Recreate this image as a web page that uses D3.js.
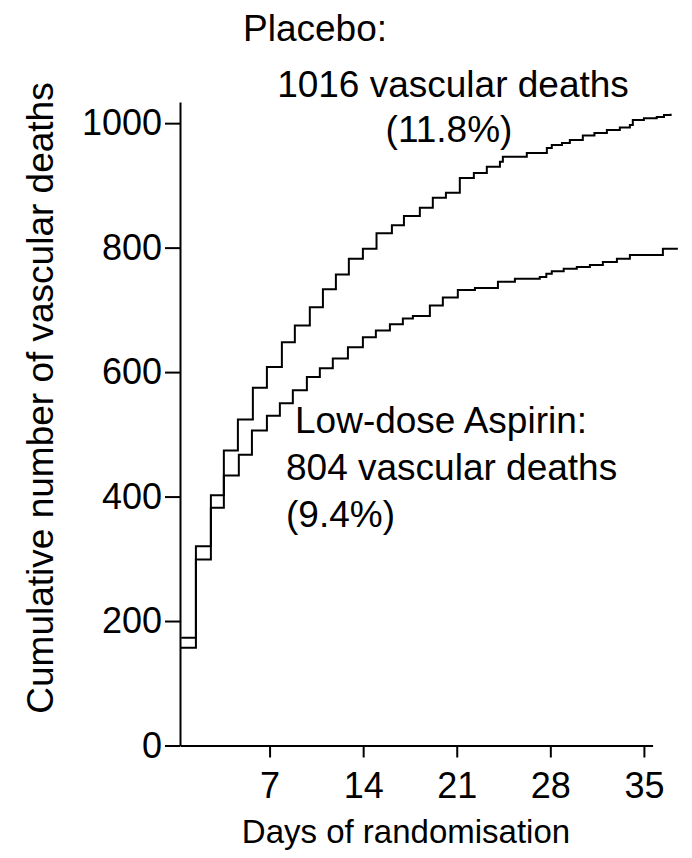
<!DOCTYPE html>
<html>
<head>
<meta charset="utf-8">
<script src="https://d3js.org/d3.v7.min.js"></script>
<style>
body{margin:0;background:#fff;}
text{font-family:'Liberation Sans',Arial,sans-serif;fill:#000;}
.notes{font-size:37px;}
.axis-title{font-size:37px;}
.axis text{font-size:36px;font-family:'Liberation Sans',Arial,sans-serif;fill:#000;}
.axis path,.axis line{stroke:#000;stroke-width:2;}
.curve{fill:none;stroke:#000;stroke-width:2;}
</style>
</head>
<body>
<svg width="692" height="858"></svg>
<script>
// placebo: day of each step and cumulative vascular deaths from that day
var placeboDays = [0.4, 1.49, 2.61, 3.58, 4.63, 5.75, 6.8, 7.92, 8.89, 10.01, 10.99, 11.96, 12.93, 13.98,
    15.0, 16.15, 17.05, 18.24, 19.21, 20.19, 21.23, 22.28, 23.25, 24.23, 24.45, 26.24, 27.74, 28.11,
    28.87, 29.46, 30.43, 31.3, 32.23, 33.2, 33.95, 34.17, 35.0, 35.96, 36.5, 37.0];
var placeboDeaths = [173, 320, 402, 474, 524, 575, 608, 648, 675, 704, 733, 757, 782, 798,
    823, 836, 851, 864, 880, 888, 912, 920, 930, 938, 946, 952, 960, 965,
    968, 973, 980, 984, 989, 993, 997, 1005, 1008, 1010, 1013, 1015];

// low-dose aspirin
var aspirinDays = [0.3, 1.49, 2.61, 3.58, 4.7, 5.68, 6.8, 7.77, 8.74, 9.79, 10.76, 11.73, 12.86, 13.98,
    14.95, 16.0, 16.97, 17.72, 18.99, 19.96, 21.08, 22.36, 24.08, 25.35, 27.21, 27.7, 28.11, 29.0,
    29.98, 30.96, 31.93, 32.98, 33.95, 36.42, 37.54];
var aspirinDeaths = [157, 299, 382, 434, 467, 506, 530, 550, 571, 592, 606, 622, 640, 656,
    667, 677, 686, 690, 707, 720, 732, 735, 745, 750, 753, 758, 762, 766,
    769, 772, 777, 782, 788, 798, 798];

var xTicks = [7, 14, 21, 28, 35];
var yTicks = [0, 200, 400, 600, 800, 1000];

var placeboLabel = ['Placebo:', '1016 vascular deaths', '(11.8%)'];
var aspirinLabel = ['Low-dose Aspirin:', '804 vascular deaths', '(9.4%)'];

var svg = d3.select('svg');

var scaleX = d3.scaleLinear().domain([0.3, 35.65]).range([180, 652.6]);
var scaleY = d3.scaleLinear().domain([0, 1034]).range([745.5, 102]);

//x axis
svg.append('g')
    .attr('class', 'axis')
    .attr('transform', 'translate(0,' + scaleY(0) + ')')
    .call(d3.axisBottom(scaleX).tickValues(xTicks).tickSize(12).tickSizeOuter(0).tickPadding(15));

//y axis
svg.append('g')
    .attr('class', 'axis')
    .attr('transform', 'translate(' + scaleX(0.3) + ',0)')
    .call(d3.axisLeft(scaleY).tickValues(yTicks).tickFormat(d3.format('d'))
        .tickSize(15).tickSizeOuter(0).tickPadding(3));

svg.selectAll('.axis text').attr('font-size', null).attr('font-family', null);

//axis titles
svg.append('text')
    .attr('class', 'axis-title')
    .attr('x', 406)
    .attr('y', 843)
    .attr('text-anchor', 'middle')
    .style('font-size', '33px')
    .text('Days of randomisation');

svg.append('text')
    .attr('class', 'axis-title')
    .attr('transform', 'translate(53,398) rotate(-90)')
    .attr('text-anchor', 'middle')
    .text('Cumulative number of vascular deaths');

//curves
var line = d3.line()
    .x(function(d){ return scaleX(d[0]); })
    .y(function(d){ return scaleY(d[1]); })
    .curve(d3.curveStepAfter);

svg.append('path')
    .attr('class', 'curve')
    .attr('d', line(d3.zip(placeboDays, placeboDeaths)));

svg.append('path')
    .attr('class', 'curve')
    .attr('d', line(d3.zip(aspirinDays, aspirinDeaths)));

//placebo notes
svg.append('text').attr('class', 'notes').attr('x', 243).attr('y', 41).text(placeboLabel[0]);
svg.append('text').attr('class', 'notes').attr('x', 453).attr('y', 97)
    .attr('text-anchor', 'middle').text(placeboLabel[1]);
svg.append('text').attr('class', 'notes').attr('x', 449).attr('y', 142)
    .attr('text-anchor', 'middle').text(placeboLabel[2]);

//aspirin notes
svg.append('text').attr('class', 'notes').attr('x', 295).attr('y', 433).text(aspirinLabel[0]);
svg.append('text').attr('class', 'notes').attr('x', 286).attr('y', 480).text(aspirinLabel[1]);
svg.append('text').attr('class', 'notes').attr('x', 286).attr('y', 527).text(aspirinLabel[2]);
</script>
</body>
</html>
